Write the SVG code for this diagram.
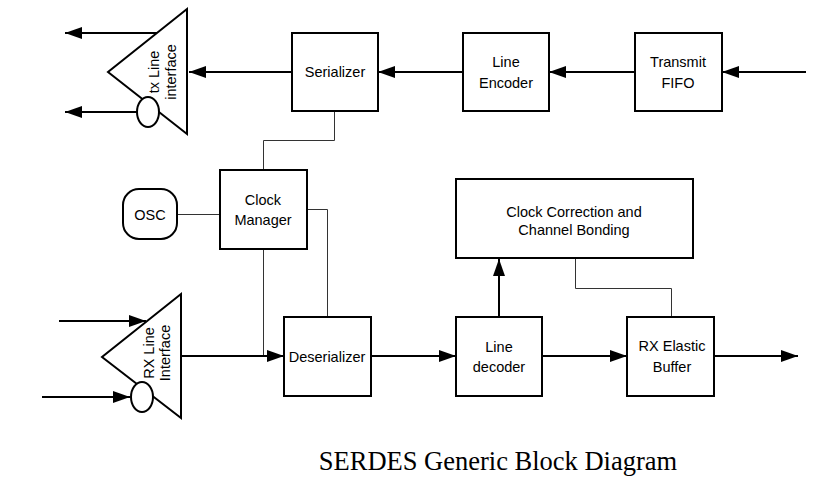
<svg xmlns="http://www.w3.org/2000/svg" width="824" height="490" viewBox="0 0 824 490">
  <style>
    .box { fill: #fff; stroke: #000; stroke-width: 2; }
    .lbl { font-family: "Liberation Sans", Arial, sans-serif; font-size: 14.5px; fill: #000; text-anchor: middle; }
    .flow { fill: none; stroke: #000; stroke-width: 2; marker-end: url(#arr); }
    .thin { fill: none; stroke: #333; stroke-width: 1; }
    .title { font-family: "Liberation Serif", "Times New Roman", serif; font-size: 26.5px; fill: #000; text-anchor: middle; }
  </style>
  <defs>
    <marker id="arr" viewBox="0 0 17 12" refX="17" refY="6" markerWidth="17" markerHeight="12" markerUnits="userSpaceOnUse" orient="auto" preserveAspectRatio="none">
      <path d="M0,0 L17,6 L0,12 z" fill="#000"/>
    </marker>
  </defs>
  <rect width="824" height="490" fill="#fff"/>

  <g id="connectors">
    <path class="flow" d="M806,72 H722"/>
    <path class="flow" d="M635,72 H549"/>
    <path class="flow" d="M463,72 H378"/>
    <path class="flow" d="M292,72 H189"/>
    <path class="flow" d="M157,33 H65"/>
    <path class="flow" d="M137,112 H65"/>
    <path class="thin" d="M334.5,111 V140.5 H263.5 V170"/>
    <path class="thin" d="M177,214.5 H220"/>
    <path class="thin" d="M307,209.5 H327.5 V317"/>
    <path class="thin" d="M263.5,249 V356"/>
    <path class="flow" d="M181,356 H284"/>
    <path class="flow" d="M59,321 H146"/>
    <path class="flow" d="M42,397 H130"/>
    <path class="flow" d="M371,356 H456"/>
    <path class="flow" d="M542,356 H627"/>
    <path class="flow" d="M714,356 H798"/>
    <path class="flow" d="M499,317 V259"/>
    <path class="thin" d="M575.5,258 V288.5 H671.5 V317"/>
  </g>

  <g id="tx-line-interface">
    <path d="M187,9 L108,72 L187,134 Z" fill="#fff" stroke="#000" stroke-width="2"/>
    <ellipse cx="148" cy="112" rx="11" ry="15" fill="#fff" stroke="#000" stroke-width="2"/>
    <text class="lbl" transform="translate(159,72) rotate(-90)">tx Line</text>
    <text class="lbl" transform="translate(176,72) rotate(-90)">interface</text>
  </g>

  <g id="serializer">
    <rect class="box" x="292" y="33" width="86" height="78"/>
    <text class="lbl" x="335" y="77">Serializer</text>
  </g>

  <g id="line-encoder">
    <rect class="box" x="463" y="33" width="86" height="78"/>
    <text class="lbl" x="506" y="67">Line</text>
    <text class="lbl" x="506" y="88">Encoder</text>
  </g>

  <g id="transmit-fifo">
    <rect class="box" x="635" y="33" width="87" height="78"/>
    <text class="lbl" x="678" y="67">Transmit</text>
    <text class="lbl" x="678" y="88">FIFO</text>
  </g>

  <g id="osc">
    <rect x="123" y="189" width="54" height="50" rx="16" ry="16" fill="#fff" stroke="#000" stroke-width="2"/>
    <text class="lbl" x="150" y="220">OSC</text>
  </g>

  <g id="clock-manager">
    <rect class="box" x="220" y="170" width="87" height="79"/>
    <text class="lbl" x="263" y="205">Clock</text>
    <text class="lbl" x="263" y="225">Manager</text>
  </g>

  <g id="clock-correction">
    <rect class="box" x="456" y="179" width="237" height="79"/>
    <text class="lbl" x="574" y="217">Clock Correction and</text>
    <text class="lbl" x="574" y="235">Channel Bonding</text>
  </g>

  <g id="rx-line-interface">
    <path d="M181,294 L102,357 L181,418 Z" fill="#fff" stroke="#000" stroke-width="2"/>
    <ellipse cx="142" cy="397" rx="11" ry="15" fill="#fff" stroke="#000" stroke-width="2"/>
    <text class="lbl" transform="translate(154,353) rotate(-90)">RX Line</text>
    <text class="lbl" transform="translate(170,353) rotate(-90)">Interface</text>
  </g>

  <g id="deserializer">
    <rect class="box" x="284" y="317" width="87" height="79"/>
    <text class="lbl" x="327" y="362">Deserializer</text>
  </g>

  <g id="line-decoder">
    <rect class="box" x="456" y="317" width="86" height="79"/>
    <text class="lbl" x="499" y="352">Line</text>
    <text class="lbl" x="499" y="372">decoder</text>
  </g>

  <g id="rx-elastic-buffer">
    <rect class="box" x="627" y="317" width="87" height="79"/>
    <text class="lbl" x="672" y="351">RX Elastic</text>
    <text class="lbl" x="672" y="372">Buffer</text>
  </g>

  <text class="title" x="498" y="470">SERDES Generic Block Diagram</text>
</svg>
